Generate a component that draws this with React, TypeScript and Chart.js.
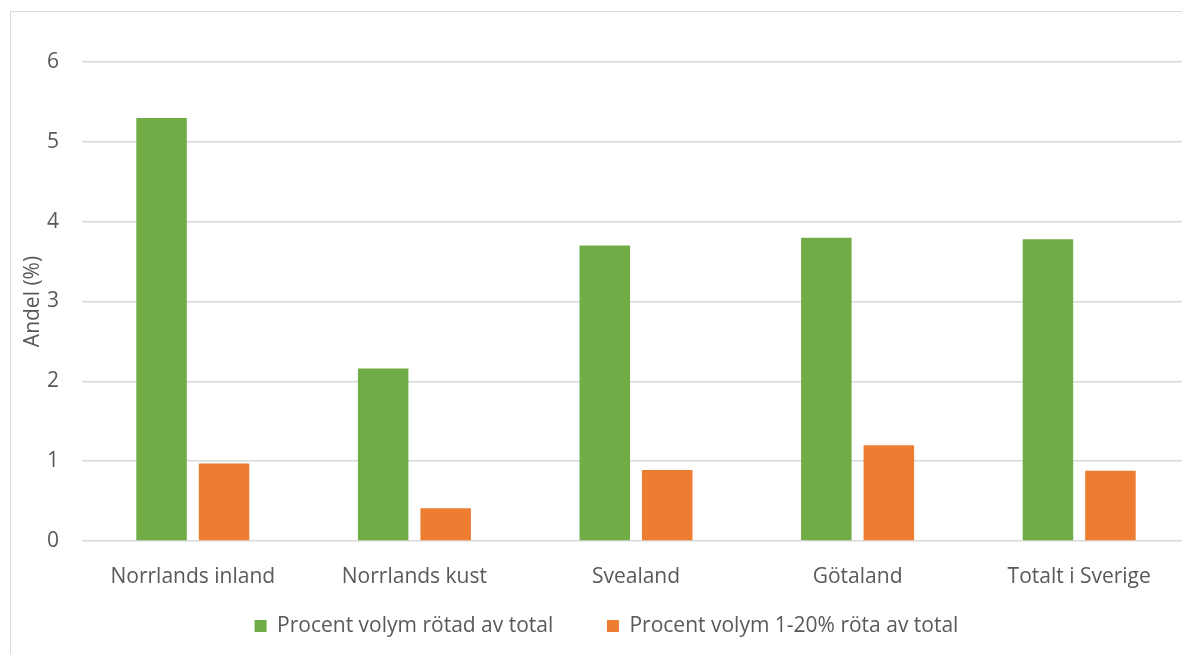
import React, { useEffect, useRef } from "react";
import { Chart, registerables } from "chart.js";

Chart.register(...registerables);

const categories = ["Norrlands inland", "Norrlands kust", "Svealand", "Götaland", "Totalt i Sverige"];
const rotadValues = [5.3, 2.16, 3.7, 3.8, 3.78];
const rota120Values = [0.97, 0.41, 0.89, 1.2, 0.88];
const seriesLabels = ["Procent volym rötad av total", "Procent volym 1-20% röta av total"];
const yAxisTitle = "Andel (%)";
const yMin = 0;
const yMax = 6;
const yStep = 1;

const TEXT = "#595959";
const GRID = "#d9d9d9";
const FONT = "'Open Sans', sans-serif";
const LEGEND_GAP = "        ";

export default function App() {
  const ref = useRef<HTMLCanvasElement | null>(null);

  useEffect(() => {
    if (!ref.current) return;
    const chart = new Chart(ref.current, {
      type: "bar",
      data: {
        labels: categories,
        datasets: [
          {
            label: seriesLabels[0],
            data: rotadValues,
            backgroundColor: "#70AD47",
            borderWidth: 0,
            categoryPercentage: 0.564,
            barPercentage: 0.808,
          },
          {
            label: seriesLabels[1],
            data: rota120Values,
            backgroundColor: "#ED7D31",
            borderWidth: 0,
            categoryPercentage: 0.564,
            barPercentage: 0.808,
          },
        ],
      },
      options: {
        responsive: false,
        animation: false,
        devicePixelRatio: 1,
        layout: { padding: { top: 62, left: 23, right: 10, bottom: 7.5 } },
        plugins: {
          legend: {
            position: "bottom",
            labels: {
              boxWidth: 12,
              boxHeight: 12,
              padding: 10,
              color: TEXT,
              font: { family: FONT, size: 21 },
              generateLabels: (c: any) => {
                const items = Chart.defaults.plugins.legend.labels.generateLabels(c);
                return items.map((it: any, i: number) =>
                  i < items.length - 1 ? { ...it, text: it.text + LEGEND_GAP } : it
                );
              },
            },
          },
          tooltip: { enabled: false },
        },
        scales: {
          x: {
            grid: { display: false },
            border: { display: false },
            ticks: {
              color: TEXT,
              font: { family: FONT, size: 21 },
              padding: 15,
              maxRotation: 0,
              autoSkip: false,
            },
            afterFit: (s: any) => {
              s.height = 64.5;
            },
          },
          y: {
            min: yMin,
            max: yMax,
            ticks: {
              stepSize: yStep,
              color: TEXT,
              font: { family: FONT, size: 21 },
              padding: 23,
            },
            grid: { color: GRID, lineWidth: 1.5, drawTicks: false },
            border: { display: false },
            title: {
              display: true,
              text: yAxisTitle,
              color: TEXT,
              font: { family: FONT, size: 21, lineHeight: 1 },
              padding: 0,
            },
            afterFit: (s: any) => {
              s.width = 59;
            },
          },
        },
      },
    });
    return () => chart.destroy();
  }, []);

  return (
    <div
      style={{
        position: "fixed",
        left: 0,
        top: 0,
        width: 1182,
        height: 654,
        overflow: "hidden",
        background: "#fff",
      }}
    >
      <div
        style={{
          position: "absolute",
          left: 10,
          top: 11,
          width: 1400,
          height: 900,
          border: `1px solid ${GRID}`,
        }}
      />
      <canvas
        ref={ref}
        width={1200}
        height={654}
        style={{ position: "absolute", left: 0, top: 0, display: "block" }}
      />
    </div>
  );
}
